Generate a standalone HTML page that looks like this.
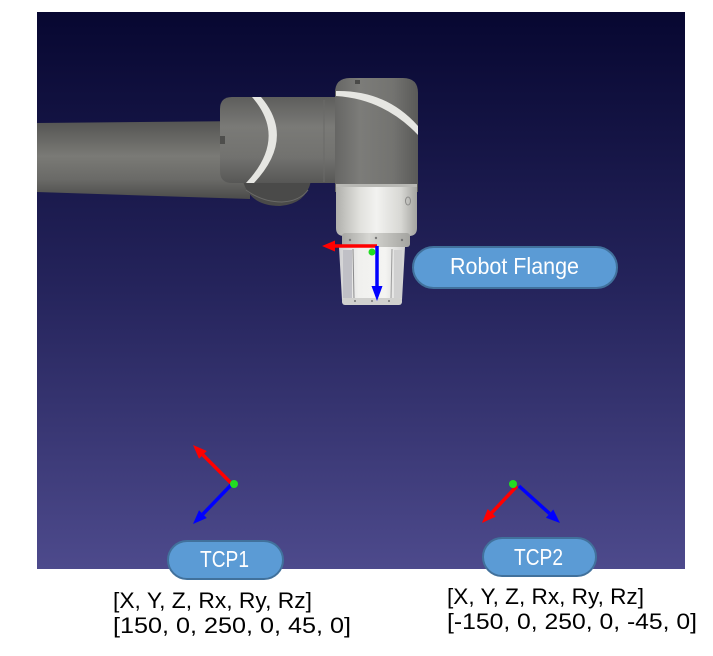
<!DOCTYPE html>
<html><head><meta charset="utf-8"><style>
html,body{margin:0;padding:0;background:#fff;}
svg{display:block;}
</style></head><body>
<svg width="713" height="656" viewBox="0 0 713 656" xmlns="http://www.w3.org/2000/svg">
<defs>
<linearGradient id="bg" x1="0" y1="0" x2="0" y2="1">
<stop offset="0" stop-color="#070731"/>
<stop offset="0.5" stop-color="#25245c"/>
<stop offset="1" stop-color="#4d4a8c"/>
</linearGradient>
<linearGradient id="tube" x1="0" y1="0" x2="0" y2="1">
<stop offset="0" stop-color="#545452"/>
<stop offset="0.45" stop-color="#7a7a76"/>
<stop offset="0.75" stop-color="#6a6a67"/>
<stop offset="1" stop-color="#4b4b4a"/>
</linearGradient>
<linearGradient id="cap" x1="0" y1="0" x2="0" y2="1">
<stop offset="0" stop-color="#5e5e5c"/>
<stop offset="0.35" stop-color="#7a7a77"/>
<stop offset="0.7" stop-color="#72726f"/>
<stop offset="1" stop-color="#575756"/>
</linearGradient>
<linearGradient id="w2" x1="0" y1="0" x2="1" y2="0">
<stop offset="0" stop-color="#666664"/>
<stop offset="0.3" stop-color="#7c7c79"/>
<stop offset="0.7" stop-color="#737370"/>
<stop offset="1" stop-color="#5a5a58"/>
</linearGradient>
<linearGradient id="silver" x1="0" y1="0" x2="1" y2="0">
<stop offset="0" stop-color="#b0b0ac"/>
<stop offset="0.3" stop-color="#e2e2de"/>
<stop offset="0.5" stop-color="#f2f2f0"/>
<stop offset="0.8" stop-color="#d8d8d4"/>
<stop offset="1" stop-color="#a4a4a0"/>
</linearGradient>
<linearGradient id="ring" x1="0" y1="0" x2="1" y2="0">
<stop offset="0" stop-color="#a8a8a4"/>
<stop offset="0.4" stop-color="#d6d6d2"/>
<stop offset="1" stop-color="#a4a4a0"/>
</linearGradient>
<linearGradient id="tool" x1="0" y1="0" x2="1" y2="0">
<stop offset="0" stop-color="#d0d0d2"/>
<stop offset="0.3" stop-color="#f0f0ee"/>
<stop offset="0.7" stop-color="#f4f4f2"/>
<stop offset="1" stop-color="#d0d0d0"/>
</linearGradient>
</defs>

<rect x="37" y="12" width="648" height="557" fill="url(#bg)"/>

<!-- upper arm tube -->
<path d="M37 123 L250 121 L250 199 L37 192 Z" fill="url(#tube)"/>
<!-- shadow disc -->
<path d="M243 181 Q250 206 280 206 Q306 204 311 181 Z" fill="#4a4a49"/>
<path d="M246 190 Q262 202 282 202 Q300 201 308 190" fill="none" stroke="#6a6a68" stroke-width="1"/>

<!-- wrist1 cap -->
<path d="M232 97 L340 97 L340 183 L232 183 Q220 183 220 171 L220 109 Q220 97 232 97 Z" fill="url(#cap)"/>
<line x1="324" y1="100" x2="324" y2="182" stroke="#6a6a68" stroke-width="1"/>
<rect x="220" y="136" width="5" height="8" fill="#4e4e4c"/>
<!-- curved stripe -->
<path d="M252 97 Q288 138 246 183 L254 183 Q296 138 261 97 Z" fill="#e6e6e2"/>

<!-- wrist2 vertical -->
<path d="M350 78 L403 78 Q418 78 418 93 L418 192 L335 192 L335 93 Q335 78 350 78 Z" fill="url(#w2)"/>
<rect x="355" y="80" width="5" height="4" fill="#4a4a48"/>
<path d="M336 91 Q386 90 418 126 L418 135 Q384 99 336 96 Z" fill="#e6e6e2"/>

<!-- silver section -->
<path d="M336 186 L417 186 L417 228 Q417 236 409 236 L344 236 Q336 236 336 228 Z" fill="url(#silver)"/>
<rect x="336" y="184" width="81" height="3" fill="#b8b8b4"/>
<ellipse cx="408" cy="201" rx="2.5" ry="4" fill="none" stroke="#8a8a88" stroke-width="1"/>
<!-- flange ring -->
<rect x="342" y="233" width="68" height="14" rx="3" fill="url(#ring)"/>
<circle cx="350" cy="240" r="1.2" fill="#777"/>
<circle cx="402" cy="240" r="1.2" fill="#777"/>
<circle cx="376" cy="238" r="1.2" fill="#777"/>

<!-- tool -->
<path d="M339 247 L405 247 L402 300 Q401 305 396 305 L347 305 Q342 305 342 300 Z" fill="url(#tool)"/>
<rect x="343" y="250" width="9" height="48" fill="#c0c0c6"/>
<line x1="353" y1="249" x2="354" y2="299" stroke="#8a8a8c" stroke-width="1"/>
<line x1="392" y1="249" x2="391" y2="299" stroke="#9a9a9a" stroke-width="1"/>
<rect x="394" y="250" width="8" height="48" fill="#d0d0d0"/>
<rect x="342" y="298" width="60" height="7" rx="3" fill="#d0d0ce"/>
<circle cx="355" cy="301" r="1" fill="#777"/>
<circle cx="372" cy="301" r="1" fill="#777"/>
<circle cx="389" cy="301" r="1" fill="#777"/>

<!-- flange axes -->
<line x1="377" y1="246" x2="334" y2="246" stroke="#ff0000" stroke-width="3.5"/>
<polygon points="322,246 335,240.5 335,251.5" fill="#ff0000"/>
<line x1="377" y1="246" x2="377" y2="287" stroke="#0000ff" stroke-width="3.5"/>
<polygon points="377,301 371.5,286 382.5,286" fill="#0000ff"/>
<circle cx="372" cy="252" r="3.5" fill="#22dd22"/>

<!-- Robot Flange label -->
<rect x="413" y="247" width="204" height="41" rx="20.5" fill="#5b9bd5" stroke="#41719c" stroke-width="2"/>
<text x="450" y="274" font-family="Liberation Sans, sans-serif" font-size="23" fill="#ffffff" textLength="129" lengthAdjust="spacingAndGlyphs">Robot Flange</text>

<!-- TCP1 axes -->
<line x1="231" y1="483" x2="202.9" y2="454.9" stroke="#ff0000" stroke-width="3.5"/>
<polygon points="193,445 206.8,451 199,458.8" fill="#ff0000"/>
<line x1="231" y1="485" x2="202.9" y2="514.1" stroke="#0000ff" stroke-width="3.5"/>
<polygon points="193,524 206.8,518 199,510.2" fill="#0000ff"/>
<circle cx="234" cy="484" r="4" fill="#22dd22"/>

<!-- TCP2 axes -->
<line x1="517" y1="486" x2="491.7" y2="512.8" stroke="#ff0000" stroke-width="3.5"/>
<polygon points="482,523 495.7,516.6 487.7,509" fill="#ff0000"/>
<line x1="519" y1="486" x2="549.6" y2="513.6" stroke="#0000ff" stroke-width="3.5"/>
<polygon points="560,523 545.9,517.7 553.3,509.5" fill="#0000ff"/>
<circle cx="513" cy="484" r="4" fill="#22dd22"/>

<!-- TCP pills -->
<rect x="168" y="541" width="115" height="38" rx="19" fill="#5b9bd5" stroke="#41719c" stroke-width="2"/>
<text x="200" y="567" font-family="Liberation Sans, sans-serif" font-size="23" fill="#ffffff" textLength="49" lengthAdjust="spacingAndGlyphs">TCP1</text>
<rect x="483" y="538" width="113" height="38" rx="19" fill="#5b9bd5" stroke="#41719c" stroke-width="2"/>
<text x="514" y="565" font-family="Liberation Sans, sans-serif" font-size="23" fill="#ffffff" textLength="49" lengthAdjust="spacingAndGlyphs">TCP2</text>

<!-- coordinate text -->
<g font-family="Liberation Sans, sans-serif" font-size="22" fill="#000000">
<text x="113" y="608" textLength="199" lengthAdjust="spacingAndGlyphs">[X, Y, Z, Rx, Ry, Rz]</text>
<text x="113" y="633" textLength="238" lengthAdjust="spacingAndGlyphs">[150, 0, 250, 0, 45, 0]</text>
<text x="447" y="604" textLength="197" lengthAdjust="spacingAndGlyphs">[X, Y, Z, Rx, Ry, Rz]</text>
<text x="447" y="629" textLength="250" lengthAdjust="spacingAndGlyphs">[-150, 0, 250, 0, -45, 0]</text>
</g>
</svg>
</body></html>
